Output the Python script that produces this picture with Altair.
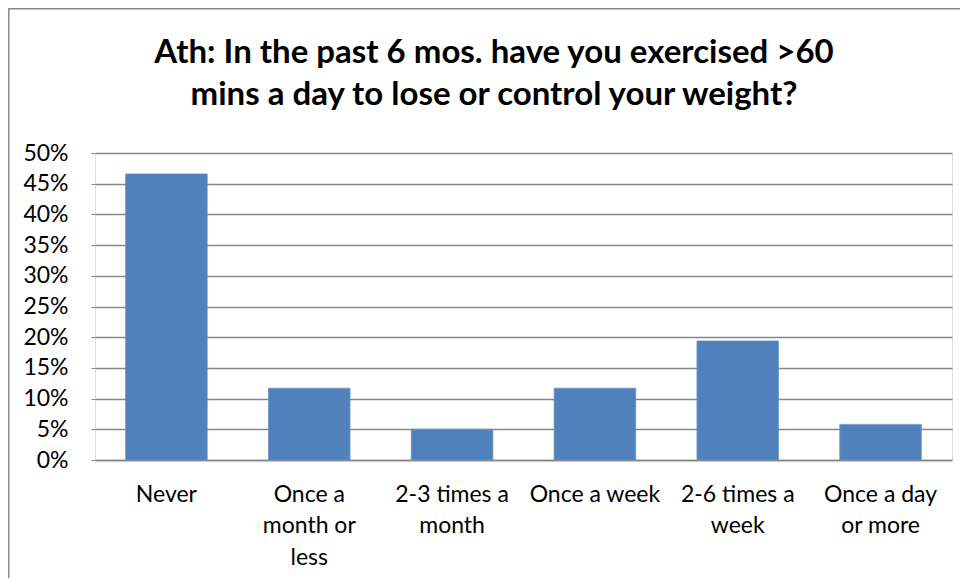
import altair as alt
import pandas as pd

categories = ["Never", "Once a month or less", "2-3 times a month", "Once a week",
              "2-6 times a week", "Once a day or more"]
wrapped = [["Never"], ["Once a", "month or", "less"], ["2-3 times a", "month"],
           ["Once a week"], ["2-6 times a", "week"], ["Once a day", "or more"]]
values = [0.466, 0.117, 0.050, 0.117, 0.194, 0.058]
y_ticks = [0, 0.05, 0.10, 0.15, 0.20, 0.25, 0.30, 0.35, 0.40, 0.45, 0.50]
title_lines = ["Ath: In the past 6 mos. have you exercised >60",
               "mins a day to lose or control your weight?"]

df = pd.DataFrame({"category": categories, "value": values})

label_map = "{" + ", ".join(
    "'" + c + "': [" + ", ".join("'" + l + "'" for l in w) + "]"
    for c, w in zip(categories, wrapped)) + "}"

FONT = "Lato"

bars = alt.Chart(df).mark_bar(color="#4F81BD", stroke="#6F97C8", strokeWidth=0.8).encode(
    x=alt.X("category:N", sort=categories, title=None,
            scale=alt.Scale(paddingInner=0.4286, paddingOuter=0.2143),
            axis=alt.Axis(labelAngle=0, labelExpr=label_map + "[datum.label]",
                          labelFont=FONT, labelFontSize=23, labelColor="#000000",
                          labelPadding=23, labelLineHeight=31.5, labelBaseline="top",
                          ticks=False, domainColor="#868686", domainWidth=1.5,
                          grid=False)),
    y=alt.Y("value:Q", title=None,
            scale=alt.Scale(domain=[0, 0.5], nice=False),
            axis=alt.Axis(values=y_ticks, format=".0%", labelFont=FONT,
                          labelFontSize=23, labelColor="#000000", labelPadding=23,
                          tickSize=4, tickColor="#868686", domain=False,
                          gridColor="#868686", gridWidth=1.3, gridOpacity=1)),
)

frame = alt.Chart(pd.DataFrame({"f": [0]})).mark_rect(
    fill=None, stroke="#888888", strokeWidth=1.5).encode(
    x=alt.value(-86.2), x2=alt.value(900), y=alt.value(-144.2), y2=alt.value(500))

title = alt.Chart(pd.DataFrame({"f": [0]})).mark_text(
    text=title_lines, font=FONT, fontSize=33, fontWeight="bold", color="#000000",
    align="center", baseline="alphabetic", lineHeight=42).encode(
    x=alt.value(399), y=alt.value(-90))

chart = alt.layer(frame, title, bars).properties(
    width=857, height=307,
    autosize=alt.AutoSizeParams(type="none"),
    padding={"left": 87, "top": 145, "right": 8, "bottom": 118},
).configure_view(stroke=None).configure(background="#ffffff")

chart.save("out.html", embed_options={"renderer": "svg", "actions": False})
